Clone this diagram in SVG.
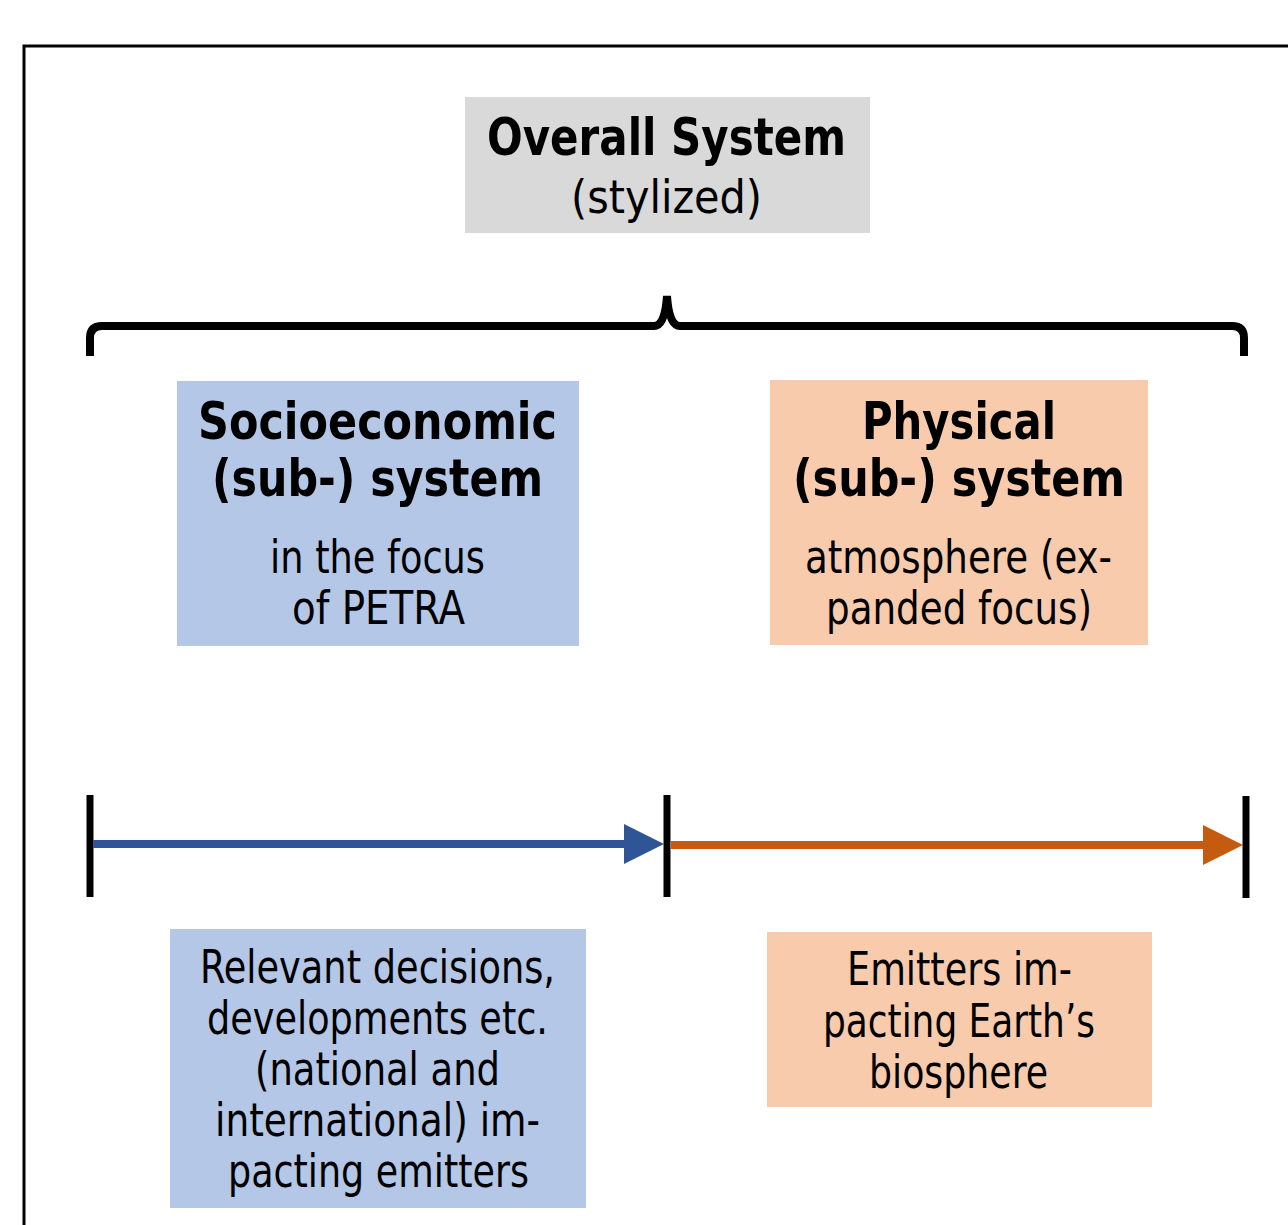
<svg xmlns="http://www.w3.org/2000/svg" width="1288" height="1225" viewBox="0 0 1288 1225">
<style>
text{font-family:"DejaVu Sans Condensed","DejaVu Sans",sans-serif;fill:#000;text-anchor:middle}
.b{font-weight:bold;font-size:52px}
.r{font-size:46px}
.blue{fill:#B4C7E7}
.orange{fill:#F8CBAD}
.tick{stroke:#000;stroke-width:7}
</style>
<rect width="1288" height="1225" fill="#fff"/>
<path d="M24,1226 V46 H1290" fill="none" stroke="#000" stroke-width="3"/>
<g id="overall">
<rect x="465" y="97" width="405" height="136" fill="#D9D9D9"/>
<text class="b" x="666.5" y="155" textLength="359" lengthAdjust="spacingAndGlyphs">Overall System</text>
<text class="r" x="666.5" y="213" textLength="191" lengthAdjust="spacingAndGlyphs">(stylized)</text>
</g>
<g id="socio">
<rect class="blue" x="177" y="381" width="402" height="265"/>
<text class="b" x="377.5" y="439" textLength="359" lengthAdjust="spacingAndGlyphs">Socioeconomic</text>
<text class="b" x="377.5" y="496" textLength="331" lengthAdjust="spacingAndGlyphs">(sub-) system</text>
<text class="r" x="377.5" y="573" textLength="215" lengthAdjust="spacingAndGlyphs">in the focus</text>
<text class="r" x="378.5" y="624" textLength="173" lengthAdjust="spacingAndGlyphs">of PETRA</text>
</g>
<g id="physical">
<rect class="orange" x="770" y="380" width="378" height="265"/>
<text class="b" x="959" y="439" textLength="194" lengthAdjust="spacingAndGlyphs">Physical</text>
<text class="b" x="959" y="496" textLength="332" lengthAdjust="spacingAndGlyphs">(sub-) system</text>
<text class="r" x="958.5" y="573" textLength="307" lengthAdjust="spacingAndGlyphs">atmosphere (ex-</text>
<text class="r" x="959" y="624" textLength="266" lengthAdjust="spacingAndGlyphs">panded focus)</text>
</g>
<g id="decisions">
<rect class="blue" x="170" y="929" width="416" height="279"/>
<text class="r" x="377.5" y="983" textLength="355" lengthAdjust="spacingAndGlyphs">Relevant decisions,</text>
<text class="r" x="377.5" y="1034" textLength="341" lengthAdjust="spacingAndGlyphs">developments etc.</text>
<text class="r" x="377.5" y="1085" textLength="245" lengthAdjust="spacingAndGlyphs">(national and</text>
<text class="r" x="377.5" y="1136" textLength="325" lengthAdjust="spacingAndGlyphs">international) im-</text>
<text class="r" x="378.5" y="1187" textLength="301" lengthAdjust="spacingAndGlyphs">pacting emitters</text>
</g>
<g id="emitters">
<rect class="orange" x="767" y="932" width="385" height="175"/>
<text class="r" x="959.5" y="985" textLength="225" lengthAdjust="spacingAndGlyphs">Emitters im-</text>
<text class="r" x="959" y="1037" textLength="272" lengthAdjust="spacingAndGlyphs">pacting Earth’s</text>
<text class="r" x="958.5" y="1088" textLength="179" lengthAdjust="spacingAndGlyphs">biosphere</text>
</g>
<g id="connectors">
<path d="M90,356 V338 Q90,326 102,326 H654 Q665,326 667,296 Q669,326 680,326 H1232 Q1244,326 1244,338 V356" fill="none" stroke="#000" stroke-width="8"/>
<line class="tick" x1="90" y1="795" x2="90" y2="897"/>
<line class="tick" x1="667" y1="795" x2="667" y2="897"/>
<line class="tick" x1="1246" y1="796" x2="1246" y2="898"/>
<line x1="93" y1="844" x2="628" y2="844" stroke="#2F5597" stroke-width="8"/>
<polygon points="624,824 664,844 624,864" fill="#2F5597"/>
<line x1="671" y1="845" x2="1206" y2="845" stroke="#C55A11" stroke-width="8"/>
<polygon points="1203,825 1243,845 1203,865" fill="#C55A11"/>
</g>
</svg>
